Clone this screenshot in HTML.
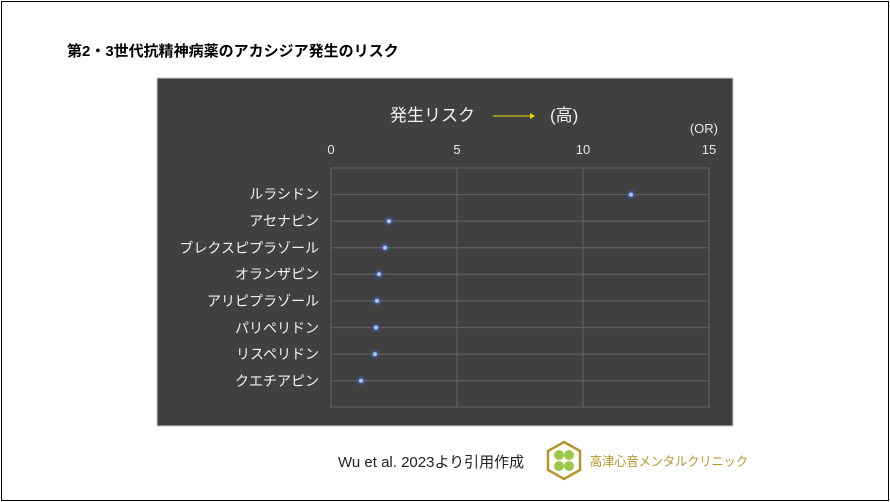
<!DOCTYPE html>
<html><head><meta charset="utf-8"><style>
body{margin:0;background:#fff;}
.f{position:absolute;left:1px;top:1px;width:886px;height:498px;border:1px solid #000;}
text{font-family:"Liberation Sans","Noto Sans CJK JP",sans-serif;}
</style></head><body>
<div class="f"></div>
<svg width="890" height="502" style="position:absolute;left:0;top:0">
<defs><radialGradient id="g"><stop offset="0" stop-color="#6d8fe0" stop-opacity="0.9"/><stop offset="1" stop-color="#2c4a9a" stop-opacity="0"/></radialGradient></defs>
<text x="67" y="56" font-size="15" font-weight="bold" fill="#000">第2・3世代抗精神病薬のアカシジア発生のリスク</text>
<rect x="157" y="78" width="576" height="348" fill="#404040" stroke="#c8c8c8" stroke-width="1"/>
<text x="390" y="121" font-size="17" fill="#f0f0f0">発生リスク</text>
<line x1="493" y1="116" x2="530" y2="116" stroke="#e8e000" stroke-width="1"/>
<polygon points="530,113 535,116 530,119" fill="#e8e000"/>
<text x="550" y="121" font-size="17" fill="#f0f0f0">(高)</text>
<text x="718" y="133" font-size="13" fill="#e8e8e8" text-anchor="end">(OR)</text>
<g font-size="13" fill="#e8e8e8" text-anchor="middle">
<text x="331" y="154">0</text><text x="457" y="154">5</text><text x="583" y="154">10</text><text x="709" y="154">15</text></g>
<g stroke="#5c5c5c" stroke-width="1.3" fill="none">
<rect x="331" y="168" width="378" height="239"/>
<line x1="457" y1="168" x2="457" y2="407"/><line x1="583" y1="168" x2="583" y2="407"/>
<line x1="331" y1="194.6" x2="709" y2="194.6"/><line x1="331" y1="221.2" x2="709" y2="221.2"/>
<line x1="331" y1="247.7" x2="709" y2="247.7"/><line x1="331" y1="274.3" x2="709" y2="274.3"/>
<line x1="331" y1="300.9" x2="709" y2="300.9"/><line x1="331" y1="327.5" x2="709" y2="327.5"/>
<line x1="331" y1="354.1" x2="709" y2="354.1"/><line x1="331" y1="380.7" x2="709" y2="380.7"/>
</g>
<g font-size="14" fill="#f0f0f0" text-anchor="end">
<text x="319" y="199">ルラシドン</text><text x="319" y="226">アセナピン</text>
<text x="319" y="253">ブレクスピプラゾール</text><text x="319" y="279">オランザピン</text>
<text x="319" y="306">アリピプラゾール</text><text x="319" y="333">パリペリドン</text>
<text x="319" y="359">リスペリドン</text><text x="319" y="386">クエチアピン</text></g>
<g>
<circle cx="631" cy="194.6" r="6" fill="url(#g)"/><circle cx="389" cy="221.2" r="6" fill="url(#g)"/>
<circle cx="385" cy="247.7" r="6" fill="url(#g)"/><circle cx="379" cy="274.3" r="6" fill="url(#g)"/>
<circle cx="377" cy="300.9" r="6" fill="url(#g)"/><circle cx="376" cy="327.5" r="6" fill="url(#g)"/>
<circle cx="375" cy="354.1" r="6" fill="url(#g)"/><circle cx="361" cy="380.7" r="6" fill="url(#g)"/>
</g>
<g fill="#a8c4f0">
<circle cx="631" cy="194.6" r="2"/><circle cx="389" cy="221.2" r="2"/><circle cx="385" cy="247.7" r="2"/><circle cx="379" cy="274.3" r="2"/>
<circle cx="377" cy="300.9" r="2"/><circle cx="376" cy="327.5" r="2"/><circle cx="375" cy="354.1" r="2"/><circle cx="361" cy="380.7" r="2"/></g>
<text x="338" y="467" font-size="15" fill="#222">Wu et al. 2023より引用作成</text>
<polygon points="564,442 580,451 580,470 564,479 548,470 548,451" fill="#fff" stroke="#b8952a" stroke-width="2.5"/>
<circle cx="559" cy="455" r="5" fill="#9cc94a"/><circle cx="569" cy="455" r="5" fill="#9cc94a"/>
<circle cx="559" cy="466" r="5" fill="#9cc94a"/><circle cx="569" cy="466" r="5" fill="#9cc94a"/>
<text x="590" y="466" font-size="13" fill="#b8952a" textLength="158" lengthAdjust="spacingAndGlyphs">高津心音メンタルクリニック</text>
</svg>
</body></html>
